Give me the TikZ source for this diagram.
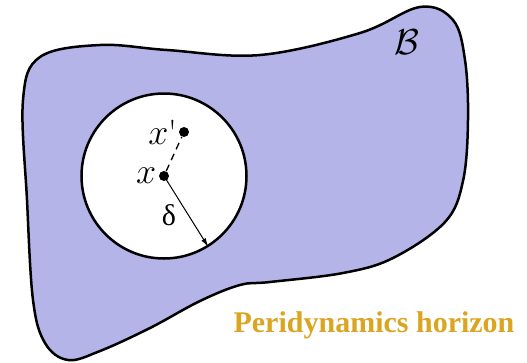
\documentclass[tikz,border=0pt]{standalone}
\usepackage{fontspec}
\usepackage{amsmath}
\usepackage{xcolor}
\usetikzlibrary{arrows.meta}
\usetikzlibrary{positioning}
\newfontfamily\greekfont{Liberation Serif}
\definecolor{bodyblue}{RGB}{180,180,232}
\definecolor{horizongold}{RGB}{218,165,32}
\def\horizonr{165pt}
\newcommand{\bigmath}[1]{\scalebox{1.45}{#1}}

\begin{document}
\begin{tikzpicture}[x=1pt, y=-1pt, thick,
		point/.style={circle, fill=black, inner sep=0pt, minimum size=10pt},
		lbl/.style={font=\fontsize{24}{26}\selectfont, inner sep=1pt}]
	\useasboundingbox (0,0) rectangle (527,362);
	% body B
	\draw[line width=2.5pt, fill=bodyblue] plot[smooth cycle, tension=0.6] coordinates {
		(23,100) (40,57) (100,45) (167,50) (260,55) (360,33) (420,7)
		(453,20) (465,60) (468,120) (463,181) (445,222) (393,258)
		(343,273) (270,282) (240,285) (200,301) (150,328) (100,351)
		(68,360) (45,343) (33,300) (27,200)};
	\node[lbl] (B) at (407,42) {\bigmath{$\mathcal{B}$}};
	% horizon
	\node[circle, draw, line width=2.5pt, fill=white, minimum size=\horizonr] (horizon) at (164,176) {};
	\node[point] (x) at (164,176) {};
	\node[point] (xp) at (184,132) {};
	\node[lbl, left=1pt of x] (xl) {\bigmath{$x$}};
	\node[lbl, left=0pt of xp] (xpl) {\bigmath{$x$\textquotesingle}};
	\draw[dashed, line width=1.3pt, dash pattern=on 7pt off 5pt] (x) -- (xp);
	\draw[-{Latex[length=9pt, width=5pt]}, line width=1pt] (x.center) -- (horizon.-58);
	\node[font=\greekfont\fontsize{30}{32}\selectfont] (delta) at (169,215) {δ};
	\node[font=\greekfont\bfseries\fontsize{30}{32}\selectfont, text=horizongold] (title) at (374,325) {Peridynamics horizon};
\end{tikzpicture}
\end{document}
